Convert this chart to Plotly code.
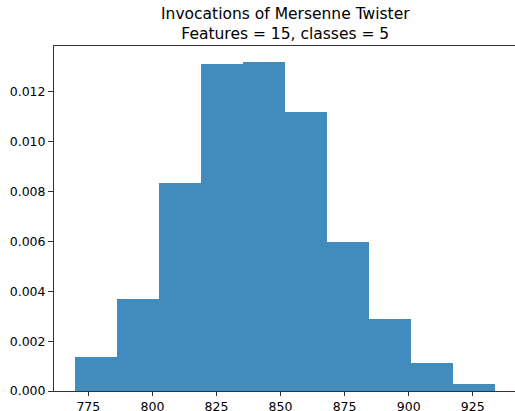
import plotly.graph_objects as go

bin_edges = [769.8, 786.2, 802.6, 819.0, 835.4, 851.8, 868.2, 884.6, 901.0, 917.4, 933.8]
densities = [0.00136, 0.00367, 0.00835, 0.01311, 0.01318, 0.01118, 0.00599, 0.00287, 0.00111, 0.00027]
x_ticks = [775, 800, 825, 850, 875, 900, 925]
y_ticks = [0.0, 0.002, 0.004, 0.006, 0.008, 0.010, 0.012]
title_text = "Invocations of Mersenne Twister<br>Features = 15, classes = 5"

centers = [(a + b) / 2 for a, b in zip(bin_edges[:-1], bin_edges[1:])]
widths = [b - a for a, b in zip(bin_edges[:-1], bin_edges[1:])]

fig = go.Figure(go.Bar(
    x=centers, y=densities, width=widths,
    marker=dict(color="rgb(65,139,191)", line=dict(width=0)),
))

axis_font = dict(family="DejaVu Sans", size=12.5, color="black")
plot_h = 411 - 46 - 20
fig.update_layout(
    width=515, height=411,
    margin=dict(l=54, r=0, t=46, b=20, autoexpand=False),
    paper_bgcolor="white", plot_bgcolor="white",
    showlegend=False,
    bargap=0,
    annotations=[dict(
        text=title_text, showarrow=False,
        xref="paper", yref="paper",
        x=(285.5 - 54) / (515 - 54), y=1 + 22 / plot_h,
        xanchor="center", yanchor="middle",
        font=dict(family="DejaVu Sans", size=15.5, color="black"),
    )],
    xaxis=dict(
        range=[761.6, 941.5],
        tickvals=x_ticks,
        ticks="outside", ticklen=4, tickcolor="#333", tickwidth=1,
        showline=True, linecolor="#333", linewidth=1, mirror=True,
        showgrid=False, zeroline=False,
        tickfont=axis_font,
    ),
    yaxis=dict(
        range=[0, 0.013835],
        tickvals=y_ticks, tickformat=".3f",
        ticks="outside", ticklen=5, tickcolor="#333", tickwidth=1,
        showline=True, linecolor="#333", linewidth=1,
        showgrid=False, zeroline=False,
        tickfont=axis_font,
    ),
)

fig.write_html(
    "out.html",
    config={"displayModeBar": False},
    post_script="document.body.style.margin='0px';document.body.style.overflow='hidden';",
)
